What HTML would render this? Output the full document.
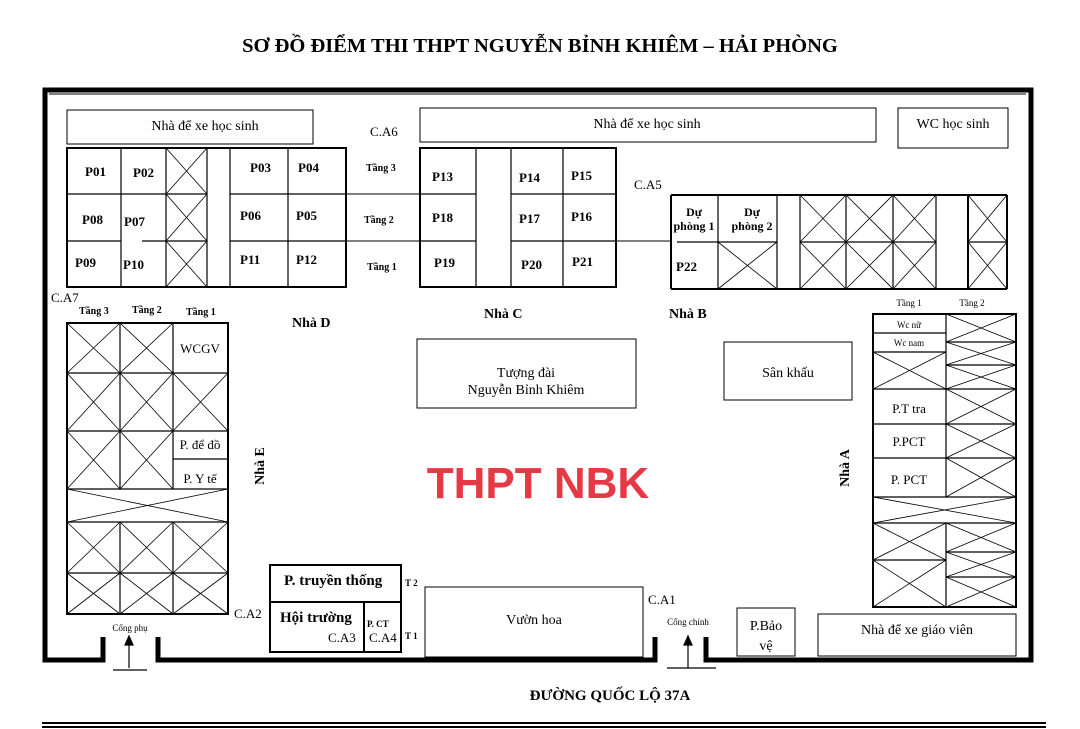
<!DOCTYPE html>
<html><head><meta charset="utf-8"><style>
body{margin:0;background:#fff;}
svg{display:block;}
text{font-family:"Liberation Serif","DejaVu Serif",serif;fill:#000;}
.b{font-weight:bold;}
</style></head><body>
<svg width="1080" height="729" viewBox="0 0 1080 729" xmlns="http://www.w3.org/2000/svg">
<rect width="1080" height="729" fill="#fff"/>
<text x="540" y="52" text-anchor="middle" class="b" font-size="20.5">SƠ ĐỒ ĐIỂM THI THPT NGUYỄN BỈNH KHIÊM – HẢI PHÒNG</text>

<g fill="none" stroke="#000">
<path d="M103 637 V660 H45 V90 H1031 V660 H706 V637" stroke-width="5"/>
<path d="M158 637 V660 H655 V637" stroke-width="5"/>
<path d="M49 94 H1026" stroke-width="1"/>
<path d="M42 723 H1046" stroke-width="2"/>
<path d="M42 727 H1046" stroke-width="2"/>
</g>

<g fill="none" stroke="#000" stroke-width="1">
<rect x="67" y="110" width="246" height="34"/>
<rect x="420" y="108" width="456" height="34"/>
<rect x="898" y="108" width="110" height="40"/>
<rect x="417" y="339" width="219" height="69"/>
<rect x="724" y="342" width="128" height="58"/>
<rect x="425" y="587" width="218" height="70"/>
<rect x="737" y="608" width="58" height="48"/>
<rect x="818" y="614" width="198" height="42"/>
</g>

<g fill="none" stroke="#000">
<rect x="67" y="148" width="279" height="139" stroke-width="2"/>
<path d="M121 148V287 M166 148V287 M207 148V287 M230 148V287 M288 148V287 M67 194H207 M230 194H346 M67 241H121 M142 241H207 M230 241H346" stroke-width="1.2"/>
<path d="M346 194H420 M346 241H420 M616 241H671" stroke-width="1"/>
<path d="M166 148L207 194M207 148L166 194 M166 194L207 241M207 194L166 241 M166 241L207 287M207 241L166 287" stroke-width="0.8"/>
</g>
<g fill="none" stroke="#000">
<rect x="420" y="148" width="196" height="139" stroke-width="2"/>
<path d="M476 148V287 M511 148V287 M563 148V287 M420 194H476 M511 194H616 M420 241H476 M511 241H616" stroke-width="1.2"/>
</g>
<g fill="none" stroke="#000">
<path d="M671 195H1007 M671 289H1007 M671 195V289 M968 195V289 M1007 195V289" stroke-width="2"/>
<path d="M718 195V289 M777 195V289 M800 195V289 M846 195V289 M893 195V289 M936 195V289 M677 242H777 M800 242H936 M968 242H1007" stroke-width="1.2"/>
<path d="M718 242L777 289M777 242L718 289 M800 195L846 242M846 195L800 242 M846 195L893 242M893 195L846 242 M893 195L936 242M936 195L893 242 M800 242L846 289M846 242L800 289 M846 242L893 289M893 242L846 289 M893 242L936 289M936 242L893 289 M968 195L1007 242M1007 195L968 242 M968 242L1007 289M1007 242L968 289" stroke-width="0.8"/>
</g>
<g fill="none" stroke="#000">
<rect x="67" y="323" width="161" height="291" stroke-width="2"/>
<path d="M120 323V489 M173 323V489 M120 522V614 M173 522V614 M67 373H228 M67 431H228 M173 459H228 M67 489H228 M67 522H228 M67 573H228" stroke-width="1.2"/>
<path d="M67 323L120 373M120 323L67 373 M120 323L173 373M173 323L120 373 M67 373L120 431M120 373L67 431 M120 373L173 431M173 373L120 431 M173 373L228 431M228 373L173 431 M67 431L120 489M120 431L67 489 M120 431L173 489M173 431L120 489 M67 489L228 522M228 489L67 522 M67 522L120 573M120 522L67 573 M120 522L173 573M173 522L120 573 M173 522L228 573M228 522L173 573 M67 573L120 614M120 573L67 614 M120 573L173 614M173 573L120 614 M173 573L228 614M228 573L173 614" stroke-width="0.8"/>
</g>
<g fill="none" stroke="#000">
<rect x="873" y="314" width="143" height="293" stroke-width="2"/>
<path d="M946 314V497 M946 523V607 M873 333H946 M873 352H946 M946 342H1016 M946 365H1016 M873 389H1016 M873 424H1016 M873 458H1016 M873 497H1016 M873 523H1016 M873 560H946 M946 552H1016 M946 577H1016" stroke-width="1.2"/>
<path d="M873 352L946 389M946 352L873 389 M873 523L946 560M946 523L873 560 M873 560L946 607M946 560L873 607 M946 314L1016 342M1016 314L946 342 M946 342L1016 365M1016 342L946 365 M946 365L1016 389M1016 365L946 389 M946 389L1016 424M1016 389L946 424 M946 424L1016 458M1016 424L946 458 M946 458L1016 497M1016 458L946 497 M873 497L1016 523M1016 497L873 523 M946 523L1016 552M1016 523L946 552 M946 552L1016 577M1016 552L946 577 M946 577L1016 607M1016 577L946 607" stroke-width="0.8"/>
</g>
<g fill="none" stroke="#000" stroke-width="2">
<rect x="270" y="565" width="131" height="87"/>
<path d="M270 602H401 M364 602V652"/>
</g>
<g stroke="#000" stroke-width="1.2" fill="#000">
<path d="M129 668V643 M113 670H147" fill="none"/>
<path d="M125 645L129 636L133 645Z"/>
<path d="M688 668V643 M667 668H716" fill="none"/>
<path d="M684 645L688 636L692 645Z"/>
</g>

<g font-size="14" text-anchor="middle">
<text x="205" y="130">Nhà để xe học sinh</text>
<text x="647" y="128">Nhà để xe học sinh</text>
<text x="953" y="128">WC học sinh</text>
<text x="526" y="377">Tượng đài</text>
<text x="526" y="394">Nguyễn Bỉnh Khiêm</text>
<text x="788" y="377">Sân khấu</text>
<text x="534" y="624">Vườn hoa</text>
<text x="766" y="630">P.Bảo</text>
<text x="766" y="650">vệ</text>
<text x="917" y="634">Nhà để xe giáo viên</text>
<text x="200" y="353" font-size="13">WCGV</text>
<text x="200" y="449" font-size="13">P. để đồ</text>
<text x="200" y="483" font-size="13">P. Y tế</text>
<text x="909" y="413" font-size="13">P.T tra</text>
<text x="909" y="446" font-size="13">P.PCT</text>
<text x="909" y="484" font-size="13">P. PCT</text>
<text x="909" y="328" font-size="9">Wc nữ</text>
<text x="909" y="346" font-size="9">Wc nam</text>
<text x="909" y="306" font-size="9">Tầng 1</text>
<text x="972" y="306" font-size="9">Tầng 2</text>
<text x="130" y="631" font-size="9">Cổng phụ</text>
<text x="688" y="625" font-size="9">Cổng chính</text>
</g>
<g font-size="13">
<text x="370" y="136">C.A6</text>
<text x="634" y="189">C.A5</text>
<text x="51" y="302">C.A7</text>
<text x="234" y="618">C.A2</text>
<text x="648" y="604">C.A1</text>
<text x="328" y="642">C.A3</text>
<text x="369" y="642">C.A4</text>
</g>
<g class="b" font-size="13">
<text x="85" y="176">P01</text><text x="133" y="177">P02</text>
<text x="250" y="172">P03</text><text x="298" y="172">P04</text>
<text x="82" y="224">P08</text><text x="124" y="226">P07</text>
<text x="240" y="220">P06</text><text x="296" y="220">P05</text>
<text x="75" y="267">P09</text><text x="123" y="269">P10</text>
<text x="240" y="264">P11</text><text x="296" y="264">P12</text>
<text x="432" y="181">P13</text><text x="519" y="182">P14</text><text x="571" y="180">P15</text>
<text x="432" y="222">P18</text><text x="519" y="223">P17</text><text x="571" y="221">P16</text>
<text x="434" y="267">P19</text><text x="521" y="269">P20</text><text x="572" y="266">P21</text>
<text x="676" y="271">P22</text>
<text x="694" y="216" text-anchor="middle" font-size="12">Dự</text>
<text x="694" y="230" text-anchor="middle" font-size="12">phòng 1</text>
<text x="752" y="216" text-anchor="middle" font-size="12">Dự</text>
<text x="752" y="230" text-anchor="middle" font-size="12">phòng 2</text>
<text x="366" y="171" font-size="10">Tầng 3</text>
<text x="364" y="223" font-size="10">Tầng 2</text>
<text x="367" y="270" font-size="10">Tầng 1</text>
<text x="79" y="314" font-size="10">Tầng 3</text>
<text x="132" y="313" font-size="10">Tầng 2</text>
<text x="186" y="315" font-size="10">Tầng 1</text>
<text x="292" y="327" font-size="14">Nhà D</text>
<text x="484" y="318" font-size="14">Nhà C</text>
<text x="669" y="318" font-size="14">Nhà B</text>
<text x="284" y="585" font-size="15">P. truyền thống</text>
<text x="280" y="622" font-size="15">Hội trường</text>
<text x="367" y="627" font-size="9">P. CT</text>
<text x="405" y="586" font-size="9">T 2</text>
<text x="405" y="639" font-size="9">T 1</text>
<text x="610" y="700" text-anchor="middle" font-size="15">ĐƯỜNG QUỐC LỘ 37A</text>
<text transform="translate(264,466) rotate(-90)" text-anchor="middle" font-size="14">Nhà E</text>
<text transform="translate(849,468) rotate(-90)" text-anchor="middle" font-size="14">Nhà A</text>
</g>
<text x="538" y="498" text-anchor="middle" style="font-family:'Liberation Sans',Arial,sans-serif;font-weight:bold;font-size:44px;fill:#e53945">THPT NBK</text>
</svg>
</body></html>
